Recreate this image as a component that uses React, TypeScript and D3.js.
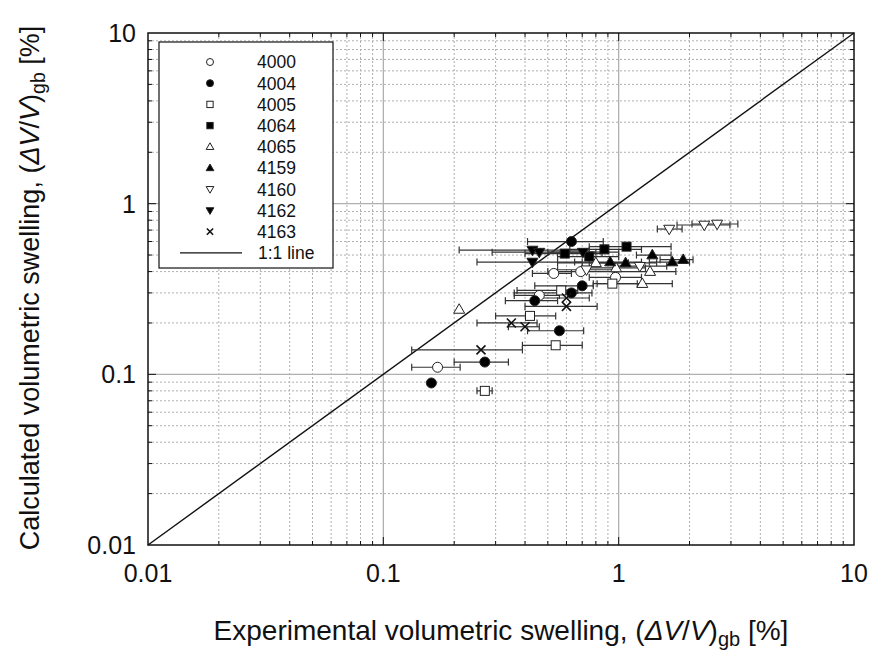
import React from "react";
import * as d3 from "d3";

// [x, y, xLow, xHigh]
const series4000 = [
  [0.17, 0.11, 0.132, 0.212],
  [0.53, 0.39, 0.43, 0.63],
  [0.46, 0.29, 0.36, 0.56],
  [0.69, 0.40, 0.5, 0.95],
  [0.97, 0.37, 0.75, 1.25],
];
const series4004 = [
  [0.16, 0.089, 0.16, 0.16],
  [0.27, 0.118, 0.2, 0.34],
  [0.56, 0.18, 0.41, 0.71],
  [0.44, 0.27, 0.33, 0.55],
  [0.63, 0.30, 0.36, 0.77],
  [0.70, 0.33, 0.44, 0.78],
  [0.63, 0.60, 0.41, 0.86],
];
const series4005 = [
  [0.27, 0.08, 0.25, 0.29],
  [0.54, 0.148, 0.39, 0.7],
  [0.42, 0.22, 0.3, 0.54],
  [0.57, 0.31, 0.37, 0.67],
  [0.94, 0.34, 0.78, 1.2],
];
const series4064 = [
  [0.59, 0.51, 0.4, 0.85],
  [0.75, 0.49, 0.55, 1.0],
  [0.87, 0.54, 0.62, 1.25],
  [1.08, 0.56, 0.75, 1.67],
];
const series4065 = [
  [0.21, 0.24, 0.21, 0.21],
  [0.80, 0.45, 0.55, 1.1],
  [0.975, 0.42, 0.7, 1.3],
  [1.26, 0.34, 0.81, 1.69],
  [1.36, 0.40, 0.95, 1.75],
];
const series4159 = [
  [0.92, 0.455, 0.65, 1.25],
  [1.07, 0.45, 0.75, 1.45],
  [1.39, 0.50, 1.19, 1.67],
  [1.69, 0.455, 1.35, 2.0],
  [1.88, 0.47, 1.5, 2.07],
];
const series4160 = [
  [1.64, 0.71, 1.46, 1.86],
  [2.31, 0.75, 1.77, 2.97],
  [2.62, 0.76, 2.05, 3.21],
  [0.73, 0.41, 0.55, 0.95],
  [1.23, 0.43, 0.95, 1.6],
];
const series4162 = [
  [0.43, 0.535, 0.21, 0.75],
  [0.46, 0.52, 0.29, 0.8],
  [0.43, 0.455, 0.25, 0.7],
  [0.705, 0.52, 0.5, 1.0],
];
const series4163 = [
  [0.26, 0.139, 0.132, 0.39],
  [0.35, 0.20, 0.25, 0.45],
  [0.40, 0.19, 0.34, 0.46],
  [0.60, 0.28, 0.45, 0.75],
  [0.60, 0.25, 0.40, 0.81],
];

const seriesNames = ["4000", "4004", "4005", "4064", "4065", "4159", "4160", "4162", "4163"];
const seriesShapes = ["circle", "circle", "square", "square", "triangle", "triangle", "triangleDown", "triangleDown", "cross"];
const seriesFilled = [false, true, false, true, false, true, false, true, true];
const seriesData = [series4000, series4004, series4005, series4064, series4065, series4159, series4160, series4162, series4163];

const tickValues = [0.01, 0.1, 1, 10];
const tickLabels = ["0.01", "0.1", "1", "10"];
const lineLabel = "1:1 line";

const W = 875;
const H = 654;
const FONT = "'Liberation Sans', Arial, Helvetica, sans-serif";

function Marker({ shape, filled, x, y, s }: { shape: string; filled: boolean; x: number; y: number; s: number }) {
  const fill = filled ? "#000" : "#fff";
  const stroke = "#222";
  if (shape === "circle") return <circle cx={x} cy={y} r={s * 0.5} fill={fill} stroke={stroke} strokeWidth={1} />;
  if (shape === "square")
    return <rect x={x - s * 0.45} y={y - s * 0.45} width={s * 0.9} height={s * 0.9} fill={fill} stroke={stroke} strokeWidth={1} />;
  if (shape === "triangle") {
    const h = s * 0.95;
    const pts = `${x},${y - h * 0.6} ${x - s * 0.55},${y + h * 0.4} ${x + s * 0.55},${y + h * 0.4}`;
    return <polygon points={pts} fill={fill} stroke={stroke} strokeWidth={1} />;
  }
  if (shape === "triangleDown") {
    const h = s * 0.95;
    const pts = `${x},${y + h * 0.6} ${x - s * 0.55},${y - h * 0.4} ${x + s * 0.55},${y - h * 0.4}`;
    return <polygon points={pts} fill={fill} stroke={stroke} strokeWidth={1} />;
  }
  const d = s * 0.45;
  return (
    <g stroke="#111" strokeWidth={1.6}>
      <line x1={x - d} y1={y - d} x2={x + d} y2={y + d} />
      <line x1={x - d} y1={y + d} x2={x + d} y2={y - d} />
    </g>
  );
}

export default function App() {
  const x = d3.scaleLog().domain([0.01, 10]).range([148, 854]);
  const y = d3.scaleLog().domain([0.01, 10]).range([545, 33]);
  const [x0, x1] = x.range();
  const [y0, y1] = y.range();

  const minor: number[] = [];
  [0.01, 0.1, 1].forEach((dec) => {
    for (let k = 2; k <= 9; k++) minor.push(dec * k);
  });
  const major = [0.1, 1];

  const legX = 159, legY = 42, legW = 174, legH = 226;
  const rowY0 = 62, rowDy = 21.2;

  return (
    <svg width={W} height={H} style={{ position: "absolute", left: 0, top: 0, background: "#fff" }} fontFamily={FONT}>
      <rect x={0} y={0} width={W} height={H} fill="#fff" />
      {/* grid */}
      <g>
        {minor.map((v) => (
          <g key={"m" + v}>
            <line x1={x(v)} x2={x(v)} y1={y1} y2={y0} stroke="#b0b0b0" strokeWidth={1} strokeDasharray="2,2" />
            <line x1={x0} x2={x1} y1={y(v)} y2={y(v)} stroke="#b0b0b0" strokeWidth={1} strokeDasharray="2,2" />
          </g>
        ))}
        {major.map((v) => (
          <g key={"M" + v}>
            <line x1={x(v)} x2={x(v)} y1={y1} y2={y0} stroke="#b0b0b0" strokeWidth={1.3} />
            <line x1={x0} x2={x1} y1={y(v)} y2={y(v)} stroke="#b0b0b0" strokeWidth={1.3} />
          </g>
        ))}
      </g>
      {/* 1:1 line */}
      <line x1={x(0.01)} y1={y(0.01)} x2={x(10)} y2={y(10)} stroke="#111" strokeWidth={1.4} />
      {/* error bars */}
      <g stroke="#333" strokeWidth={1.2}>
        {seriesData.map((arr, si) =>
          arr.map((d, i) =>
            d[2] < d[3] ? (
              <g key={`e${si}-${i}`}>
                <line x1={x(d[2])} x2={x(d[3])} y1={y(d[1])} y2={y(d[1])} />
                <line x1={x(d[2])} x2={x(d[2])} y1={y(d[1]) - 3.5} y2={y(d[1]) + 3.5} />
                <line x1={x(d[3])} x2={x(d[3])} y1={y(d[1]) - 3.5} y2={y(d[1]) + 3.5} />
              </g>
            ) : null
          )
        )}
      </g>
      {/* markers */}
      {seriesData.map((arr, si) =>
        arr.map((d, i) => (
          <Marker key={`p${si}-${i}`} shape={seriesShapes[si]} filled={seriesFilled[si]} x={x(d[0])} y={y(d[1])} s={10} />
        ))
      )}
      {/* frame ticks */}
      <g stroke="#111" strokeWidth={1}>
        {minor.map((v) => (
          <g key={"t" + v}>
            <line x1={x(v)} x2={x(v)} y1={y1} y2={y1 + 4} />
            <line x1={x(v)} x2={x(v)} y1={y0} y2={y0 - 4} />
            <line x1={x0} x2={x0 + 4} y1={y(v)} y2={y(v)} />
            <line x1={x1} x2={x1 - 4} y1={y(v)} y2={y(v)} />
          </g>
        ))}
        {major.map((v) => (
          <g key={"T" + v}>
            <line x1={x(v)} x2={x(v)} y1={y1} y2={y1 + 8} />
            <line x1={x(v)} x2={x(v)} y1={y0} y2={y0 - 8} />
            <line x1={x0} x2={x0 + 8} y1={y(v)} y2={y(v)} />
            <line x1={x1} x2={x1 - 8} y1={y(v)} y2={y(v)} />
          </g>
        ))}
      </g>
      <rect x={x0} y={y1} width={x1 - x0} height={y0 - y1} fill="none" stroke="#111" strokeWidth={1.5} />
      {/* legend */}
      <rect x={legX} y={legY} width={legW} height={legH} fill="#fff" stroke="#111" strokeWidth={1.2} />
      {seriesNames.map((n, i) => (
        <g key={"l" + n}>
          <Marker shape={seriesShapes[i]} filled={seriesFilled[i]} x={210} y={rowY0 + i * rowDy} s={7} />
          <text x={257} y={rowY0 + i * rowDy} dy="0.36em" fontSize={17.5} fill="#111">
            {n}
          </text>
        </g>
      ))}
      <line x1={180} x2={242} y1={rowY0 + 9 * rowDy} y2={rowY0 + 9 * rowDy} stroke="#111" strokeWidth={1.2} />
      <text x={258} y={rowY0 + 9 * rowDy} dy="0.36em" fontSize={17.5} fill="#111">
        {lineLabel}
      </text>
      {/* tick labels */}
      {tickValues.map((v, i) => (
        <text key={"xl" + v} x={x(v)} y={582} textAnchor="middle" fontSize={25} fill="#111">
          {tickLabels[i]}
        </text>
      ))}
      {tickValues.map((v, i) => (
        <text key={"yl" + v} x={136} y={y(v)} dy="0.36em" textAnchor="end" fontSize={25} fill="#111">
          {tickLabels[i]}
        </text>
      ))}
      {/* axis titles */}
      <text x={501} y={640} textAnchor="middle" fontSize={28} fill="#111">
        Experimental volumetric swelling, (<tspan fontStyle="italic">ΔV</tspan>/<tspan fontStyle="italic">V</tspan>)
        <tspan fontSize={20} dy={6}>gb</tspan>
        <tspan dy={-6}> [%]</tspan>
      </text>
      <text transform={`translate(39,${288}) rotate(-90)`} textAnchor="middle" fontSize={27} fill="#111">
        Calculated volumetric swelling, (<tspan fontStyle="italic">ΔV</tspan>/<tspan fontStyle="italic">V</tspan>)
        <tspan fontSize={19.5} dy={6}>gb</tspan>
        <tspan dy={-6}> [%]</tspan>
      </text>
    </svg>
  );
}
